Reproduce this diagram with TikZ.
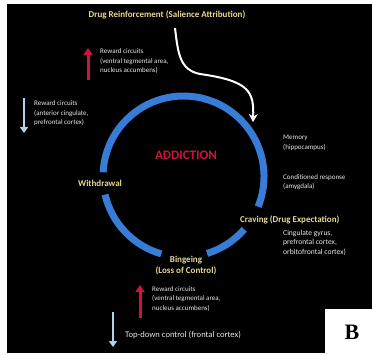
\documentclass[tikz,border=0pt]{standalone}
\usepackage{fontspec}
\setmainfont{Carlito}
\newfontfamily\serifB{Liberation Serif}
\usetikzlibrary{arrows.meta}
\definecolor{ringblue}{RGB}{55,125,215}
\definecolor{labyellow}{RGB}{228,218,145}
\definecolor{crim}{RGB}{205,20,60}
\definecolor{paleblue}{RGB}{175,212,238}
\definecolor{txtwhite}{RGB}{232,232,232}
\tikzset{
  ring/.style={draw=ringblue, line width=7pt},
  small/.style={inner sep=0pt, anchor=west, align=left, text=txtwhite, font=\fontsize{7}{9.5}\selectfont},
  stage/.style={inner sep=0pt, text=labyellow, font=\bfseries\fontsize{9}{11}\selectfont, align=center},
  uparrow/.style={draw=crim, line width=3pt, -{Triangle[width=9pt,length=7pt]}},
  downarrow/.style={draw=paleblue, line width=2pt, -{Triangle[width=8pt,length=6pt]}},
  whitearrow/.style={draw=white, line width=2pt, -{Stealth[width=9pt,length=8pt]}}
}
\begin{document}
\begin{tikzpicture}[x=1pt,y=1pt]
\useasboundingbox (0,0) rectangle (372,354);
\fill[white] (0,0) rectangle (372,354);
\fill[black] (7,1) rectangle (372,350);
% ring
\coordinate (C) at (183.5,177.5);
\draw[ring] ([shift={(338:80.5)}]C) arc[start angle=338, end angle=537, radius=80.5];
\draw[ring] ([shift={(193:80.5)}]C) arc[start angle=193, end angle=254, radius=80.5];
\draw[ring] ([shift={(287:80.5)}]C) arc[start angle=287, end angle=319, radius=80.5];
% title and white arrow
\node[stage] (title) at (167,339) {Drug Reinforcement (Salience Attribution)};
\coordinate (a0) at (175,326);
\coordinate (a1) at (253,232);
\draw[whitearrow] (a0) .. controls (178,300) and (180,284) .. (200,280) .. controls (250,273) and (254,262) .. (a1);
% center
\node[inner sep=0pt, text=crim, font=\bfseries\fontsize{13}{15}\selectfont] (add) at (186,199) {ADDICTION};
% stages
\node[stage] (wd) at (100,171) {Withdrawal};
\node[stage, anchor=west] (crav) at (240,134) {Craving (Drug Expectation)};
\node[stage] (binge) at (186,88.5) {Bingeing\\(Loss of Control)};
% annotations
\node[small] (rc1) at (100,292.5) {Reward circuits\\(ventral tegmental area,\\nucleus accumbens)};
\node[small] (rc2) at (34,240.5) {Reward circuits\\(anterior cingulate,\\prefrontal cortex)};
\node[small] (mem) at (283,211) {Memory\\(hippocampus)};
\node[small] (cond) at (283,172) {Conditioned response\\(amygdala)};
\node[small, font=\fontsize{7.6}{9.5}\selectfont] (cing) at (283,111.5) {Cingulate gyrus,\\prefrontal cortex,\\orbitofrontal cortex)};
\node[small] (rc3) at (152,55) {Reward circuits\\(ventral tegmental area,\\nucleus accumbens)};
\node[small, font=\fontsize{8.6}{10}\selectfont] (td) at (125,19) {Top-down control (frontal cortex)};
% arrows
\coordinate (u1a) at (88,274); \coordinate (u1b) at (88,306);
\draw[uparrow] (u1a) -- (u1b);
\coordinate (d1a) at (24,256); \coordinate (d1b) at (24,221);
\draw[downarrow] (d1a) -- (d1b);
\coordinate (u2a) at (140,36); \coordinate (u2b) at (140,69);
\draw[uparrow] (u2a) -- (u2b);
\coordinate (d2a) at (113,42); \coordinate (d2b) at (113,7);
\draw[downarrow] (d2a) -- (d2b);
% label B
\fill[white] (325,0) rectangle (372,45);
\node[inner sep=0pt, font=\serifB\bfseries\fontsize{22}{24}\selectfont] (B) at (352,22) {B};
\end{tikzpicture}
\end{document}
